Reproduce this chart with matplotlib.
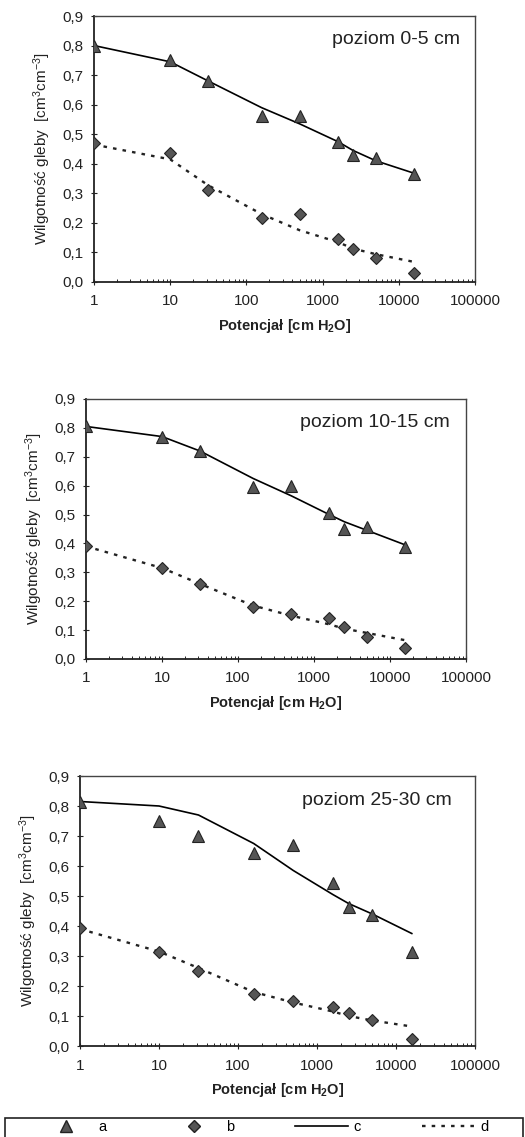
# -*- coding: utf-8 -*-
# Krzywe retencji wody glebowej dla trzech poziomow
import numpy as np
import matplotlib.pyplot as plt
from matplotlib.ticker import FuncFormatter, LogLocator, NullFormatter
from matplotlib.lines import Line2D
from matplotlib.patches import Rectangle

plt.rcParams['font.family'] = ['Liberation Sans', 'DejaVu Sans']
plt.rcParams['mathtext.fontset'] = 'custom'
plt.rcParams['mathtext.rm'] = 'Liberation Sans'
plt.rcParams['mathtext.it'] = 'Liberation Sans:italic'
plt.rcParams['mathtext.bf'] = 'Liberation Sans:bold'

# potencjal [cm H2O] (pF 0; 1; 1,5; 2,2; 2,7; 3,2; 3,4; 3,7; 4,2)
potencjal = [1, 10, 31.6, 158, 501, 1585, 2512, 5012, 15849]

# poziom 0-5 cm
a_0_5 = [0.80, 0.75, 0.68, 0.56, 0.56, 0.475, 0.43, 0.42, 0.365]
b_0_5 = [0.47, 0.435, 0.31, 0.215, 0.23, 0.145, 0.11, 0.08, 0.03]
c_0_5 = [0.80, 0.745, 0.68, 0.59, 0.535, 0.475, 0.445, 0.41, 0.368]
d_0_5 = [0.465, 0.415, 0.327, 0.23, 0.175, 0.135, 0.113, 0.094, 0.068]

# poziom 10-15 cm
a_10_15 = [0.805, 0.77, 0.72, 0.597, 0.60, 0.505, 0.45, 0.458, 0.386]
b_10_15 = [0.39, 0.314, 0.26, 0.181, 0.155, 0.141, 0.11, 0.075, 0.037]
c_10_15 = [0.805, 0.77, 0.72, 0.625, 0.565, 0.50, 0.475, 0.445, 0.395]
d_10_15 = [0.39, 0.315, 0.26, 0.185, 0.15, 0.12, 0.105, 0.09, 0.065]

# poziom 25-30 cm
a_25_30 = [0.813, 0.75, 0.70, 0.645, 0.67, 0.542, 0.464, 0.437, 0.312]
b_25_30 = [0.392, 0.314, 0.249, 0.173, 0.151, 0.131, 0.111, 0.086, 0.024]
c_25_30 = [0.815, 0.80, 0.77, 0.675, 0.585, 0.505, 0.475, 0.44, 0.375]
d_25_30 = [0.39, 0.315, 0.26, 0.18, 0.145, 0.115, 0.10, 0.085, 0.065]

panele = [('poziom 0-5 cm', a_0_5, b_0_5, c_0_5, d_0_5),
          ('poziom 10-15 cm', a_10_15, b_10_15, c_10_15, d_10_15),
          ('poziom 25-30 cm', a_25_30, b_25_30, c_25_30, d_25_30)]

W, H = 525, 1137
# osie w pikselach: lewa, prawa, gora, dol
osie_px = [(94, 475, 16, 282),
           (86, 466, 399, 659),
           (80, 475, 776, 1046)]
tytul_x = [0.96, 0.958, 0.94]

kol_marker = '#555555'
dotted = (0, (1.5, 2.6))

fig = plt.figure(figsize=(W / 100, H / 100), dpi=100)

for k, (tytul, a, b, c, d) in enumerate(panele):
    l, r, t, bt = osie_px[k]
    ax = fig.add_axes([l / W, 1 - bt / H, (r - l) / W, (bt - t) / H])
    ax.plot(potencjal, c, color='black', lw=1.2, zorder=2)
    ax.plot(potencjal, d, color='#222222', lw=1.7, linestyle=dotted, zorder=2)
    ax.plot(potencjal, a, linestyle='none', marker='^', ms=8.5,
            mfc=kol_marker, mec='#222222', mew=0.8, zorder=3)
    ax.plot(potencjal, b, linestyle='none', marker='D', ms=6.3,
            mfc=kol_marker, mec='#222222', mew=0.8, zorder=3)

    ax.set_xscale('log')
    ax.set_xlim(1, 100000)
    ax.set_ylim(0, 0.9)
    ax.set_yticks(np.arange(0, 0.91, 0.1))
    ax.yaxis.set_major_formatter(FuncFormatter(lambda v, p: ('%.1f' % v).replace('.', ',')))
    ax.xaxis.set_major_locator(LogLocator(base=10, numticks=10))
    ax.xaxis.set_major_formatter(FuncFormatter(lambda v, p: '%d' % v))
    ax.xaxis.set_minor_locator(LogLocator(base=10, subs=np.arange(2, 10), numticks=20))
    ax.xaxis.set_minor_formatter(NullFormatter())

    ax.tick_params(axis='both', which='major', direction='inout', length=5,
                   width=0.8, labelsize=11, colors='#222222')
    ax.tick_params(axis='x', which='major', pad=6.5)
    ax.tick_params(axis='y', which='major', pad=5.2)
    ax.tick_params(axis='x', which='minor', direction='in', length=2.5, width=0.6)
    for s in ['left', 'bottom']:
        ax.spines[s].set_linewidth(1.3)
        ax.spines[s].set_color('#222222')
    for s in ['top', 'right']:
        ax.spines[s].set_linewidth(1.0)
        ax.spines[s].set_color('#444444')

    ax.set_ylabel('Wilgotność gleby  [cm$^3$cm$^{-3}$]', fontsize=11, color='#222222')
    ax.yaxis.set_label_coords(-52 / (r - l), 0.5)
    ax.yaxis.label.set_va('center')
    ax.set_xlabel('Potencjał [cm H$_\\mathbf{2}$O]', fontsize=10.5,
                  fontweight='bold', color='#222222')
    ax.xaxis.set_label_coords(0.5, -44 / (bt - t))
    ax.xaxis.label.set_va('center')
    ax.text(tytul_x[k], 0.91, tytul, transform=ax.transAxes, ha='right',
            va='center', fontsize=14, color='#222222')

# ramka legendy
fig.patches.append(Rectangle((5 / W, -0.01), 518 / W, 0.01 + 19 / H,
                             transform=fig.transFigure, fill=False,
                             edgecolor='#222222', lw=1.2))
uchwyty = [Line2D([], [], linestyle='none', marker='^', ms=8, mfc=kol_marker, mec='#222222'),
           Line2D([], [], linestyle='none', marker='D', ms=6.3, mfc=kol_marker, mec='#222222'),
           Line2D([], [], color='black', lw=1.2),
           Line2D([], [], color='#222222', lw=1.7, linestyle=dotted)]
fig.legend(uchwyty, ['a', 'b', 'c', 'd'], ncol=4, loc='center left',
           bbox_to_anchor=(40 / W, 1 - 1127 / H), fontsize=10.5, frameon=False,
           borderpad=0, borderaxespad=0, handlelength=3.6, handletextpad=0.4,
           columnspacing=4.2)

fig.savefig('out.png', dpi=100)
